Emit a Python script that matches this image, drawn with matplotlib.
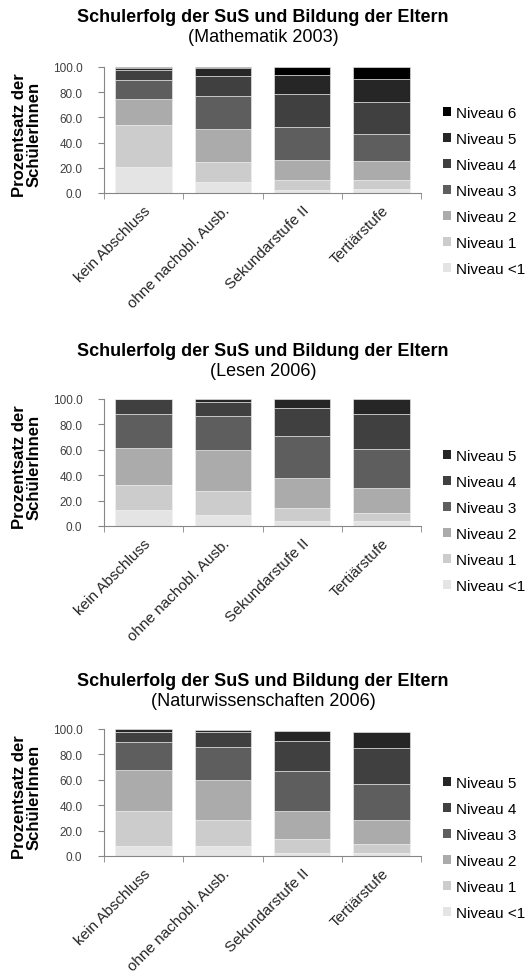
import matplotlib.pyplot as plt
from matplotlib.patches import Patch

plt.rcParams['font.family'] = ['Liberation Sans', 'DejaVu Sans']

categories = ['kein Abschluss', 'ohne nachobl. Ausb.', 'Sekundarstufe II', 'Tertiärstufe']

# Mathematik 2003: Niveau <1 ... Niveau 6
math_levels = ['Niveau <1', 'Niveau 1', 'Niveau 2', 'Niveau 3', 'Niveau 4', 'Niveau 5', 'Niveau 6']
math_values = [
    [21.0, 9.0, 2.7, 3.2],
    [33.0, 16.0, 8.0, 7.5],
    [21.0, 25.6, 15.5, 14.4],
    [15.0, 26.4, 26.3, 22.1],
    [8.0, 16.2, 25.9, 24.8],
    [1.5, 6.0, 15.5, 18.7],
    [0.5, 0.8, 6.1, 9.3],
]

# Lesen 2006: Niveau <1 ... Niveau 5
read_levels = ['Niveau <1', 'Niveau 1', 'Niveau 2', 'Niveau 3', 'Niveau 4', 'Niveau 5']
read_values = [
    [12.3, 8.4, 3.6, 3.6],
    [20.1, 19.3, 10.8, 6.8],
    [28.9, 32.2, 23.3, 19.5],
    [26.9, 27.0, 33.2, 30.8],
    [11.8, 11.0, 22.0, 27.5],
    [0.0, 2.1, 7.1, 11.8],
]

# Naturwissenschaften 2006: Niveau <1 ... Niveau 5
sci_levels = ['Niveau <1', 'Niveau 1', 'Niveau 2', 'Niveau 3', 'Niveau 4', 'Niveau 5']
sci_values = [
    [7.9, 7.9, 2.1, 2.1],
    [27.6, 20.5, 11.1, 7.7],
    [32.1, 31.3, 22.3, 18.4],
    [22.4, 25.9, 31.1, 28.4],
    [7.9, 12.3, 24.2, 28.2],
    [2.1, 1.6, 7.4, 12.6],
]

colors = {
    'Niveau <1': '#e4e4e4',
    'Niveau 1': '#cccccc',
    'Niveau 2': '#ababab',
    'Niveau 3': '#5e5e5e',
    'Niveau 4': '#404040',
    'Niveau 5': '#262626',
    'Niveau 6': '#000000',
}

W, H = 526, 978
fig = plt.figure(figsize=(W / 100, H / 100), dpi=100)


def px_axes(left, top, right, bottom):
    return fig.add_axes([left / W, 1 - bottom / H, (right - left) / W, (bottom - top) / H])


def draw_chart(top, bottom, title_y, subtitle, levels, values, legend_top):
    ax = px_axes(104, top, 421, bottom)
    x = list(range(len(categories)))
    base = [0.0] * len(categories)
    for lvl, vals in zip(levels, values):
        ax.bar(x, vals, bottom=base, width=0.71, color=colors[lvl],
               edgecolor='#f2f2f2', linewidth=0.4, label=lvl)
        base = [b + v for b, v in zip(base, vals)]
    ax.set_xlim(-0.5, len(categories) - 0.5)
    ax.set_ylim(0, 100)
    ax.set_yticks([0, 20, 40, 60, 80, 100])
    ax.set_yticklabels(['%.1f' % t for t in [0, 20, 40, 60, 80, 100]],
                       fontsize=8.5, color='#404040')
    ax.set_xticks(x)
    ax.set_xticklabels(categories, rotation=45, ha='right', rotation_mode='anchor',
                       fontsize=11, color='#262626')
    ax.set_xticks([i + 0.5 for i in range(-1, len(categories))], minor=True)
    ax.tick_params(axis='x', which='major', length=0, pad=7)
    ax.tick_params(axis='x', which='minor', length=4, color='#868686', direction='out')
    ax.tick_params(axis='y', length=4, color='#868686', direction='out', pad=11.5)
    for s in ['top', 'right']:
        ax.spines[s].set_visible(False)
    for s in ['left', 'bottom']:
        ax.spines[s].set_color('#868686')
        ax.spines[s].set_linewidth(0.8)
    ax.set_ylabel('Prozentsatz der\nSchülerInnen', fontsize=12, fontweight='bold',
                  linespacing=0.95)
    ax.yaxis.set_label_coords(-0.196, 0.47)

    fig.text(0.5, 1 - title_y / H, 'Schulerfolg der SuS und Bildung der Eltern',
             ha='center', va='center', fontsize=13, fontweight='bold')
    fig.text(0.5, 1 - (title_y + 20) / H, subtitle,
             ha='center', va='center', fontsize=13)

    handles = [Patch(facecolor=colors[l], edgecolor='none') for l in levels[::-1]]
    fig.legend(handles, levels[::-1], loc='upper left',
               bbox_to_anchor=(443 / W, 1 - legend_top / H), frameon=False,
               fontsize=11, handlelength=0.5, handleheight=0.5, handletextpad=0.35,
               labelspacing=0.785, borderaxespad=0, borderpad=0)


draw_chart(68, 194, 18, '(Mathematik 2003)', math_levels, math_values, 107)
draw_chart(400, 527, 352, '(Lesen 2006)', read_levels, read_values, 450)
draw_chart(730, 857, 682, '(Naturwissenschaften 2006)', sci_levels, sci_values, 777)

fig.savefig('out.png', dpi=100)
